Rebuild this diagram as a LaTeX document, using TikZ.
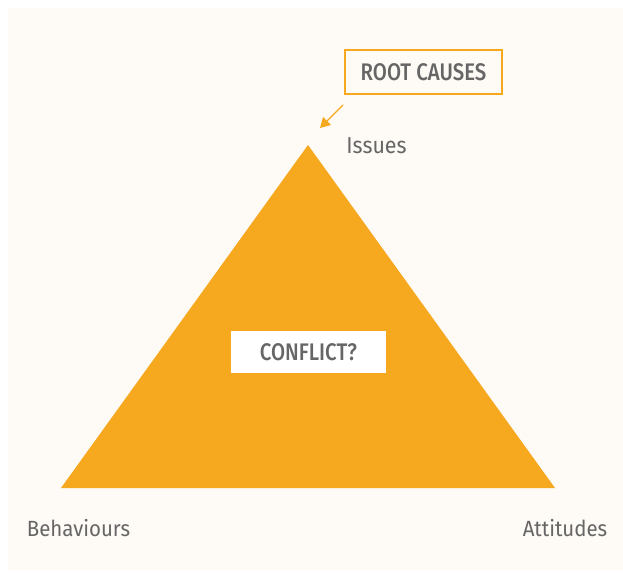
\documentclass[tikz,border=0pt]{standalone}
\usepackage{fontspec}
\setmainfont{Fira Sans}[FakeStretch=0.85, BoldFont={Fira Sans Medium}]
\newfontfamily\labelfont{Fira Sans}[FakeStretch=0.93]
\definecolor{panelbg}{HTML}{FEFAF5}
\definecolor{pyramid}{HTML}{F6A81F}
\definecolor{labeltext}{HTML}{666666}
\usetikzlibrary{arrows.meta, positioning, calc}

\begin{document}
\begin{tikzpicture}[
        x=1pt, y=-1pt,
        corner/.style={
            inner sep=0pt,
            font=\labelfont\fontsize{22}{26}\selectfont\color{labeltext}
        },
        tagbox/.style={
            rectangle,
            inner sep=0pt,
            font=\fontsize{24}{28}\selectfont\bfseries\color{labeltext}
        },
        pointer/.style={
            -{Triangle[length=10pt, width=11pt]},
            draw=pyramid,
            line width=1.4pt
        }
    ]

    % Page and backdrop
    \useasboundingbox (0,0) rectangle (623,573);
    \fill[panelbg] (8,8) rectangle (623,570);

    % Triangle
    \coordinate (apex) at (308,145);
    \coordinate (base left) at (61,488);
    \coordinate (base right) at (555,488);
    \fill[pyramid] (apex) -- (base left) -- (base right) -- cycle;

    % Nodes
    \node[tagbox, fill=white, minimum width=155, minimum height=42] (conflict) at (308.5,352) {CONFLICT?};
    \node[tagbox, draw=pyramid, line width=2pt, fill=panelbg, minimum width=157, minimum height=44] (causes) at (423.5,72) {ROOT CAUSES};
    \node[corner, font=\labelfont\fontsize{23}{27}\selectfont\color{labeltext}] (issues) at (376.5,146) {Issues};
    \node[corner] (behaviours) at (78.5,528) {Behaviours};
    \node[corner] (attitudes) at (565,528) {Attitudes};

    % Arrow
    \coordinate (tail) at (343,105);
    \coordinate (tip) at (320,128);
    \draw[pointer] (tail) -- (tip);

\end{tikzpicture}
\end{document}
